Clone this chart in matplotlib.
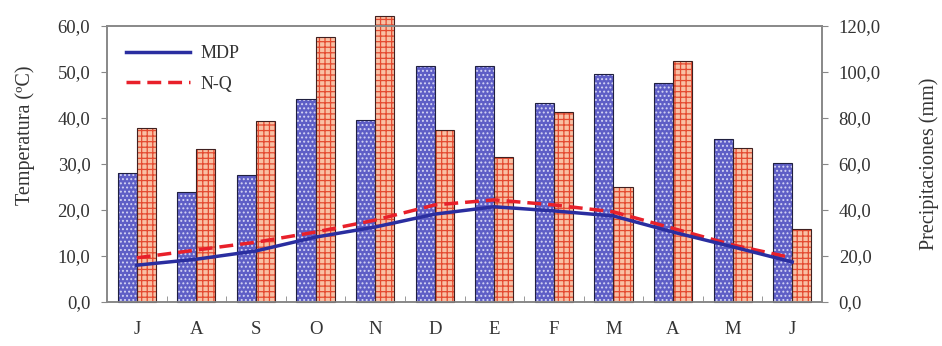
import matplotlib
matplotlib.use("Agg")
import matplotlib.pyplot as plt
import numpy as np
from matplotlib.ticker import FuncFormatter

months = ["J", "A", "S", "O", "N", "D", "E", "F", "M", "A", "M", "J"]

# Precipitation (mm), right axis
precip_mdp = [56.1, 47.8, 55.2, 88.3, 79.1, 102.6, 102.6, 86.5, 99.1, 95.2, 70.9, 60.4]
precip_nq = [75.7, 66.5, 78.7, 115.2, 124.3, 74.8, 63.0, 82.6, 50.0, 104.8, 67.0, 31.7]

# Mean temperature (ºC), left axis
temp_mdp = [8.0, 9.3, 11.1, 14.1, 16.3, 19.1, 20.7, 19.8, 18.7, 15.2, 12.0, 8.7]
temp_nq = [9.6, 11.3, 13.0, 15.2, 17.8, 21.1, 22.2, 21.1, 19.6, 16.0, 12.4, 9.6]

plt.rcParams["font.family"] = ["Liberation Serif", "DejaVu Serif"]
plt.rcParams["hatch.linewidth"] = 0.9

fig = plt.figure(figsize=(9.42, 3.46), dpi=100)
ax = fig.add_axes([0.1136, 0.1272, 0.7590, 0.7977])
ax2 = ax.twinx()

x = np.arange(len(months))
w = 0.32

# Bars: hatched fill first, then a dark outline on top
ax.bar(x - w / 2, precip_mdp, w, facecolor="#5e5ec6", edgecolor="#d4d4f4",
       hatch="....", linewidth=0, clip_on=False, zorder=2)
ax.bar(x - w / 2, precip_mdp, w, facecolor="none", edgecolor="#202040",
       linewidth=0.8, clip_on=False, zorder=3)
ax.bar(x + w / 2, precip_nq, w, facecolor="#f9c0a4", edgecolor="#e44a30",
       hatch="+++", linewidth=0, clip_on=False, zorder=2)
ax.bar(x + w / 2, precip_nq, w, facecolor="none", edgecolor="#402020",
       linewidth=0.8, clip_on=False, zorder=3)

ax.set_ylim(0, 120)
ax.set_yticks(np.arange(0, 121, 20))
ax.set_xlim(-0.5, len(months) - 0.5)

# Temperature lines
ax2.plot(x, temp_mdp, color="#2a2ea0", linewidth=2.5, label="MDP", zorder=5)
ax2.plot(x, temp_nq, color="#e8202a", linewidth=2.5, linestyle=(0, (4, 2)),
         label="N-Q", zorder=4)
ax2.set_ylim(0, 60)
ax2.set_yticks(np.arange(0, 61, 10))

fmt = FuncFormatter(lambda v, p: f"{v:.1f}".replace(".", ","))
ax.yaxis.set_major_formatter(fmt)
ax2.yaxis.set_major_formatter(fmt)

# Bars' axis on the right, lines' axis on the left
ax.yaxis.tick_right()
ax2.yaxis.tick_left()

ax.set_ylabel("Precipitaciones (mm)", fontsize=14.5, color="#333333")
ax.yaxis.set_label_coords(1.163, 0.5)
ax2.set_ylabel("Temperatura (ºC)", fontsize=14.5, color="#333333")
ax2.yaxis.set_label_coords(-0.128, 0.605)

ax.set_xticks(x)
ax.set_xticklabels(months, fontsize=13.5, color="#333333")
ax.tick_params(axis="x", length=0, pad=14)
ax.set_xticks(np.arange(0.5, len(months) - 0.5, 1), minor=True)
ax.tick_params(axis="x", which="minor", direction="in", length=4, color="#888888")

for a in (ax, ax2):
    a.tick_params(axis="y", labelsize=13.5, labelcolor="#333333", direction="out",
                  length=4, color="#888888", pad=8)
    for s in a.spines.values():
        s.set_color("#888888")
        s.set_linewidth(1.2)

leg = ax2.legend(loc="upper left", bbox_to_anchor=(0.012, 0.97), frameon=False,
                 fontsize=13, handlelength=3.5, handletextpad=0.6,
                 labelspacing=0.75, borderaxespad=0.2)
for t in leg.get_texts():
    t.set_color("#333333")

fig.savefig("out.png", dpi=100)
